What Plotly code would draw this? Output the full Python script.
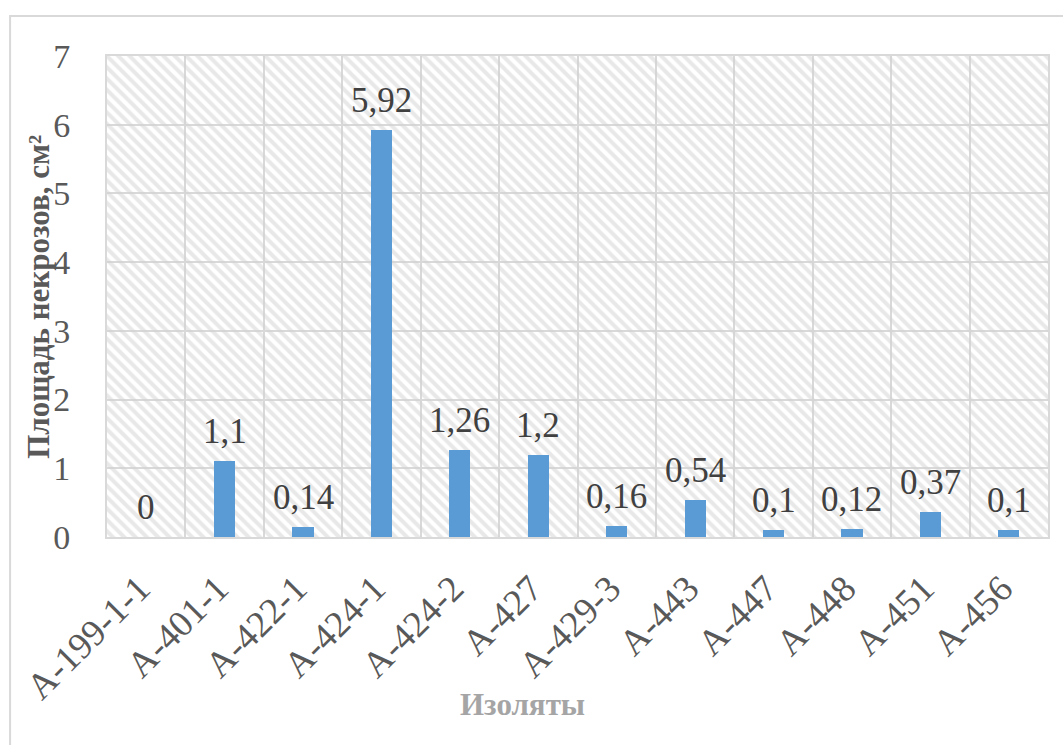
import plotly.graph_objects as go

# Isolates and necrosis area (cm²)
isolates = ["А-199-1-1", "А-401-1", "А-422-1", "А-424-1", "А-424-2", "А-427",
            "А-429-3", "А-443", "А-447", "А-448", "А-451", "А-456"]
necrosis_area = [0, 1.1, 0.14, 5.92, 1.26, 1.2, 0.16, 0.54, 0.1, 0.12, 0.37, 0.1]
y_ticks = [0, 1, 2, 3, 4, 5, 6, 7]

FONT = "Liberation Serif"
BAR_COLOR = "#5B9BD5"
GRID = "#D9D9D9"
HATCH = "#D2D2D2"
TEXT = "#595959"

positions = list(range(len(isolates)))
x_lo, x_hi = -0.5, len(isolates) - 0.5
y_lo, y_hi = y_ticks[0], y_ticks[-1]
labels = [f"{v:g}".replace(".", ",") for v in necrosis_area]

fig = go.Figure()

# Hatched plot-area background, drawn as one full-width bar beneath the data
fig.add_trace(go.Bar(
    x=[(x_lo + x_hi) / 2], y=[y_hi - y_lo], base=[y_lo], width=[x_hi - x_lo],
    marker=dict(color="rgba(255,255,255,0)", line=dict(width=0),
                pattern=dict(shape="\\", fgcolor=HATCH, bgcolor="rgba(255,255,255,0)",
                             size=8, solidity=0.5, fillmode="overlay")),
    hoverinfo="skip", showlegend=False,
))

fig.add_trace(go.Bar(
    x=positions, y=necrosis_area, width=0.27,
    marker=dict(color=BAR_COLOR, line=dict(width=0)),
    hoverinfo="x+y", showlegend=False,
))

# Value labels above each bar
value_labels = [
    dict(x=xp, y=v, text=t, xref="x", yref="y", xanchor="center", yanchor="bottom",
         yshift=8, showarrow=False, font=dict(family=FONT, size=35, color="#404040"))
    for xp, v, t in zip(positions, necrosis_area, labels)
]

fig.update_layout(
    width=1063, height=745,
    margin=dict(l=107, r=15, t=56, b=208),
    paper_bgcolor="white", plot_bgcolor="white",
    font=dict(family=FONT, color=TEXT),
    barmode="overlay", bargap=0,
    xaxis=dict(
        range=[x_lo, x_hi], tickmode="array", tickvals=positions, ticktext=isolates,
        tickangle=-45, tickfont=dict(family=FONT, size=37, color=TEXT),
        ticks="outside", ticklen=13, tickcolor="rgba(0,0,0,0)",
        ticklabelshift=-7,
        showgrid=False, zeroline=False,
        showline=True, linecolor=GRID, linewidth=2, mirror=True,
        minor=dict(tickmode="linear", tick0=-0.5, dtick=1, showgrid=True,
                   gridcolor=GRID, gridwidth=2, ticks=""),
    ),
    yaxis=dict(
        range=[y_lo, y_hi], tickvals=y_ticks,
        tickfont=dict(family=FONT, size=34, color=TEXT),
        ticks="outside", ticklen=28, tickcolor="rgba(0,0,0,0)",
        showgrid=True, gridcolor=GRID, gridwidth=2, zeroline=False,
        showline=True, linecolor=GRID, linewidth=2, mirror=True,
    ),
    shapes=[dict(type="rect", xref="paper", yref="paper",
                 x0=-0.103, x1=1.05, y0=-0.6, y1=1.083,
                 line=dict(color=GRID, width=2), layer="below")],
    annotations=value_labels + [
        dict(text="<b>Площадь некрозов, см²</b>", xref="paper", yref="paper",
             x=-0.073, y=0.5, xanchor="center", yanchor="middle",
             textangle=-90, showarrow=False,
             font=dict(family=FONT, size=31, color=TEXT)),
        dict(text="<b>Изоляты</b>", xref="paper", yref="paper",
             x=0.442, y=-0.349, xanchor="center", yanchor="middle", showarrow=False,
             font=dict(family=FONT, size=31, color="#A5A5A5")),
    ],
)

fig.write_html("out.html")
